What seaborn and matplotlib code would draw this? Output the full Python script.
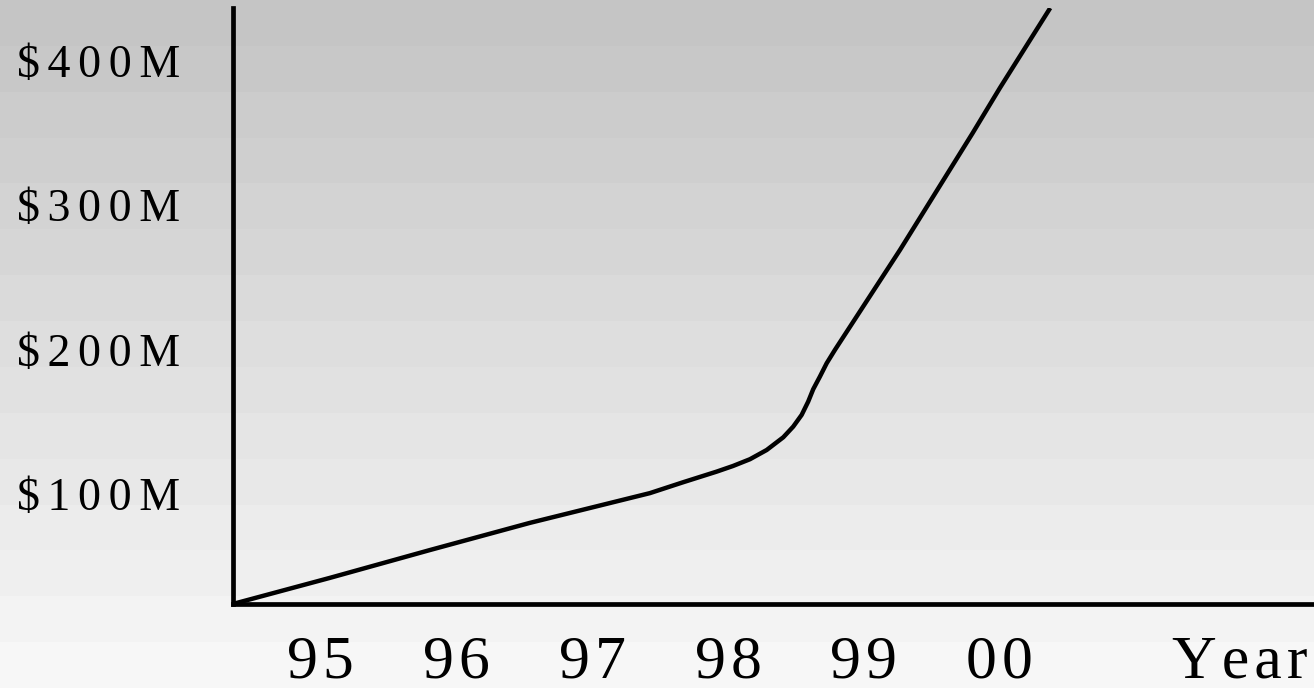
import numpy as np
import pandas as pd
import matplotlib
matplotlib.use("Agg")
import matplotlib.pyplot as plt
import seaborn as sns

# Revenue curve (year, $M)
year = [1994.36, 1995.07, 1995.81, 1996.54, 1997.426, 1997.669, 1997.917,
        1998.037, 1998.162, 1998.285, 1998.407, 1998.480, 1998.542,
        1998.590, 1998.627, 1998.676, 1998.726, 1998.787, 1999.265,
        1999.80, 2000.00, 2000.37]
revenue = [23.6, 41.6, 61.0, 79.7, 100.4, 107.9, 115.3,
           119.2, 123.9, 130.3, 139.1, 146.5, 154.6,
           163.8, 172.4, 181.1, 190.4, 199.7, 268.9,
           350.0, 381.2, 436.6]

x_ticks = [1995, 1996, 1997, 1998, 1999, 2000]
x_tick_labels = ["95", "96", "97", "98", "99", "00"]
y_ticks = [100, 200, 300, 400]
y_tick_labels = ["$100M", "$200M", "$300M", "$400M"]
x_axis_title = "Year"

sns.set_theme(style="white")
plt.rcParams["font.family"] = ["Liberation Serif", "DejaVu Serif"]

W, H = 1314, 688
fig = plt.figure(figsize=(W / 100, H / 100), dpi=100)

# banded grey backdrop, darker at the top
bg = fig.add_axes([0, 0, 1, 1], zorder=-1)
bands = 15
levels = np.linspace(197, 247, bands) / 255.0
grad = np.repeat(levels, 4)[:, None]
bg.imshow(np.dstack([grad, grad, grad]), aspect="auto",
          extent=[0, 1, 0, 1], interpolation="nearest")
bg.set_axis_off()

ax = fig.add_axes([233 / W, 84 / H, (W - 233) / W, 596 / H])
ax.patch.set_alpha(0)

df = pd.DataFrame({"year": year, "revenue": revenue})
sns.lineplot(data=df, x="year", y="revenue", ax=ax, color="black",
             linewidth=3.2, sort=False, estimator=None,
             solid_joinstyle="round", solid_capstyle="butt")

ax.set_xlim(1994.36, 2002.31)
ax.set_ylim(23.56, 436.6)

def spaced(s, sep):
    return sep.join(s)

x_pad = 22
ax.set_xticks(x_ticks)
ax.set_xticklabels([spaced(s, "\u200a") for s in x_tick_labels], fontsize=44.5)
ax.set_yticks(y_ticks)
ax.set_yticklabels([spaced(s, "\u2006") for s in y_tick_labels], fontsize=33)
ax.tick_params(axis="both", length=0, colors="black")
ax.tick_params(axis="x", pad=x_pad)
ax.tick_params(axis="y", pad=38)
ax.set_xlabel("")
ax.set_ylabel("")

for side in ("top", "right"):
    ax.spines[side].set_visible(False)
for side in ("left", "bottom"):
    ax.spines[side].set_color("black")
    ax.spines[side].set_linewidth(3.4)

# axis title sits on the same line as the year labels
ax.annotate(spaced(x_axis_title, "\u200a"), xy=(2001.765, 0),
            xycoords=ax.get_xaxis_transform(),
            xytext=(0, -x_pad), textcoords="offset points",
            fontsize=44.5, ha="center", va="top", color="black",
            annotation_clip=False)

fig.savefig("out.png", dpi=100)
